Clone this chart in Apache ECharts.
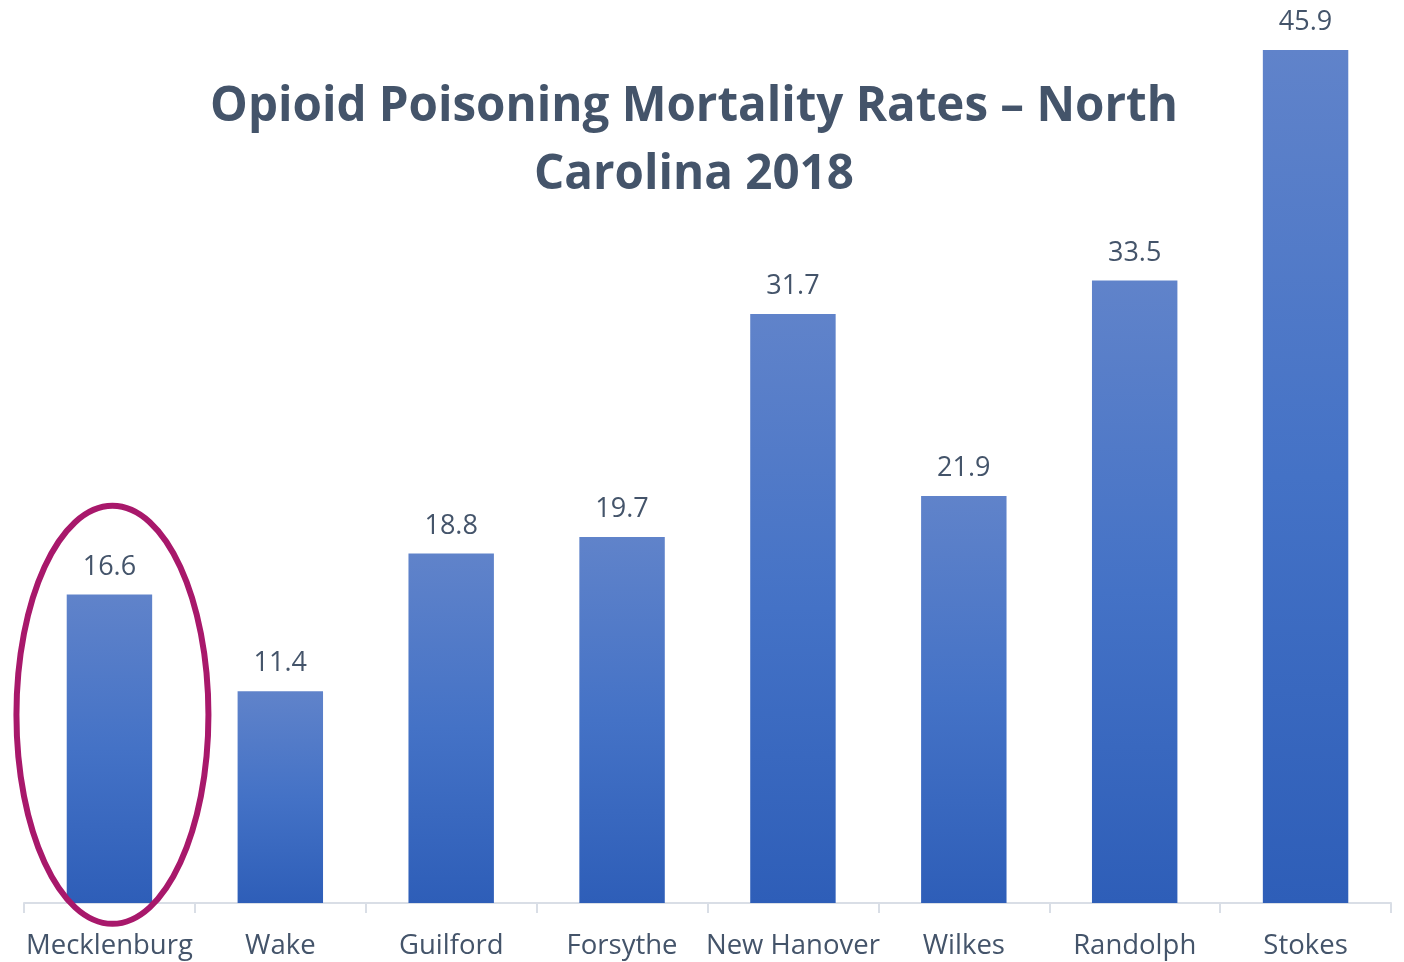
<!DOCTYPE html>
<html>
<head>
<meta charset="utf-8">
<script src="https://cdn.jsdelivr.net/npm/echarts@6/dist/echarts.min.js"></script>
<style>
  html, body { margin: 0; padding: 0; background: #fff; }
  #chart { width: 1404px; height: 962px; }
</style>
</head>
<body>
<div id="chart"></div>
<script>
const counties = ['Mecklenburg', 'Wake', 'Guilford', 'Forsythe', 'New Hanover', 'Wilkes', 'Randolph', 'Stokes']
const rates = [16.6, 11.4, 18.8, 19.7, 31.7, 21.9, 33.5, 45.9]
const titleText = 'Opioid Poisoning Mortality Rates – North\nCarolina 2018'

const textColor = '#44546a'
const chart = echarts.init(document.getElementById('chart'))

chart.setOption({
  animation: false,
  title: {
    text: titleText,
    left: 689,
    top: 68,
    textAlign: 'center',
    textStyle: {
      fontFamily: 'Open Sans',
      fontWeight: 'bold',
      fontSize: 47.5,
      lineHeight: 68,
      color: textColor
    }
  },
  grid: { left: 24, right: 13, top: 50, bottom: 59 },
  xAxis: {
    type: 'category',
    data: counties,
    axisLine: { lineStyle: { color: '#d9dee6', width: 2 } },
    axisTick: { show: true, length: 10, lineStyle: { color: '#d9dee6', width: 2 } },
    axisLabel: {
      fontFamily: 'Open Sans',
      fontSize: 27.5,
      color: textColor,
      margin: 29,
      interval: 0
    }
  },
  yAxis: {
    type: 'value',
    min: 0,
    max: v => v.max,
    show: false,
    splitLine: { show: false }
  },
  series: [{
    type: 'bar',
    data: rates,
    barWidth: '50%',
    itemStyle: {
      color: new echarts.graphic.LinearGradient(0, 0, 0, 1, [
        { offset: 0, color: '#6083ca' },
        { offset: 0.5, color: '#4472c6' },
        { offset: 1, color: '#2e5eb8' }
      ])
    },
    label: {
      show: true,
      position: 'top',
      distance: 14,
      fontFamily: 'Open Sans',
      fontSize: 27,
      color: textColor
    }
  }]
})

// highlight ellipse around Mecklenburg
const cx = chart.convertToPixel({ xAxisIndex: 0 }, counties[0]) + 3
const cy = chart.convertToPixel({ yAxisIndex: 0 }, rates[0] * 0.61)
chart.setOption({
  graphic: [{
    type: 'ellipse',
    shape: { cx: cx, cy: cy, rx: 96, ry: 209 },
    style: { fill: 'none', stroke: '#a8186b', lineWidth: 6 },
    z: 100
  }]
})
</script>
</body>
</html>
